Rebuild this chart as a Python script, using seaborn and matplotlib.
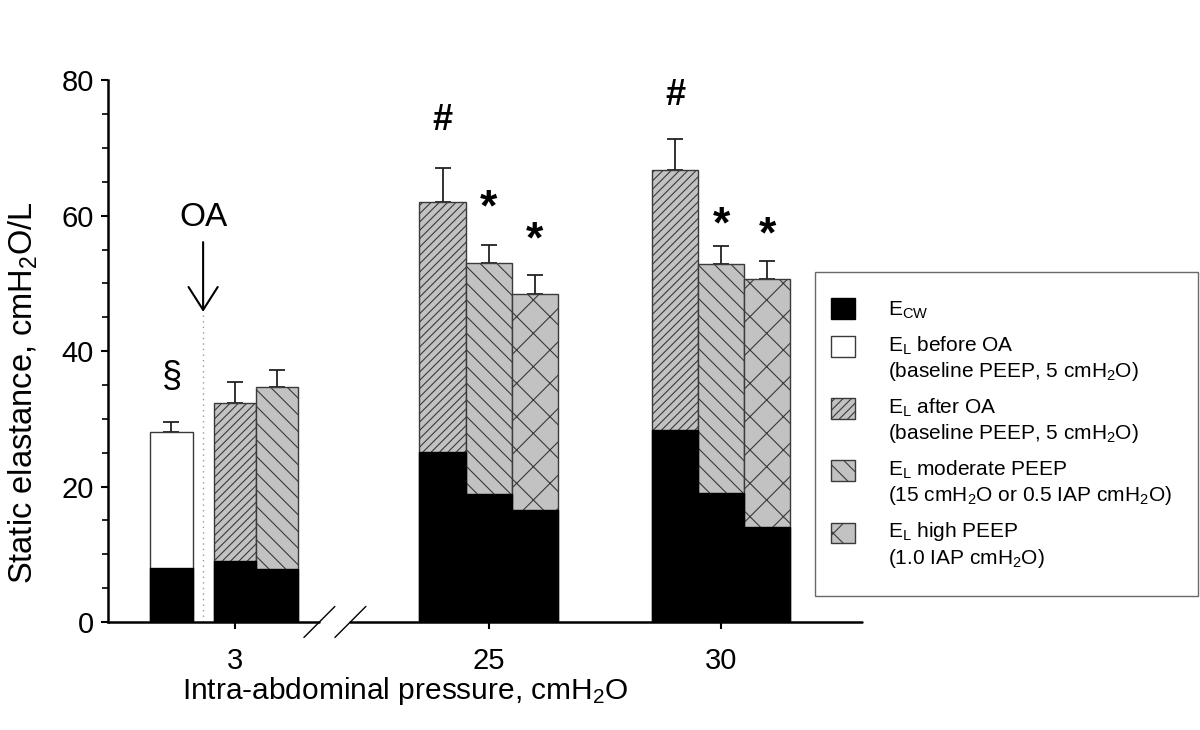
import numpy as np
import pandas as pd
import matplotlib.pyplot as plt
import seaborn as sns
from matplotlib.patches import Patch, Rectangle
from matplotlib.legend_handler import HandlerPatch

# values, static elastance in cmH2O/L
iap = ["3", "3", "3", "25", "25", "25", "30", "30", "30"]
condition = ["before", "after", "moderate", "after", "moderate", "high", "after", "moderate", "high"]
e_cw = [7.9, 9.0, 7.8, 25.1, 18.9, 16.6, 28.4, 19.0, 14.0]       # chest wall elastance (black part)
e_l = [20.1, 23.3, 26.9, 36.9, 34.1, 31.9, 38.4, 33.8, 36.6]      # lung elastance stacked on top
e_l_err = [1.5, 3.1, 2.5, 5.1, 2.7, 2.7, 4.5, 2.8, 2.7]           # upper error bar
iap_ticks = ["3", "25", "30"]

# significance marks: which bar, symbol, height of the symbol centre
mark_bar = [0, 3, 6, 4, 5, 7, 8]
mark_symbol = ["§", "#", "#", "*", "*", "*", "*"]
mark_y = [36.1, 74.1, 77.8, 62.5, 57.8, 60.0, 58.6]

# layout: tick position of every IAP group and offset of each bar in it (bar widths)
group_x = {"3": 2.745, "25": 8.245, "30": 13.28}
bar_offset = [-1.37, 0.0, 0.913, -1.0, 0.0, 1.0, -1.0, 0.0, 1.0]

fill = {"before": "white", "after": "#c2c2c2", "moderate": "#c2c2c2", "high": "#c2c2c2"}
hatch = {"before": "", "after": "////", "moderate": "\\\\", "high": "x"}
edge = "#3a3a3a"

sns.set_theme(style="ticks")
plt.rcParams["font.family"] = ["Liberation Sans", "DejaVu Sans"]
plt.rcParams["mathtext.fontset"] = "custom"
plt.rcParams["mathtext.rm"] = "Liberation Sans"
plt.rcParams["mathtext.it"] = "Liberation Sans:italic"
plt.rcParams["mathtext.bf"] = "Liberation Sans:bold"
plt.rcParams["hatch.linewidth"] = 0.8
for key in ["text.color", "axes.labelcolor", "xtick.color", "ytick.color"]:
    plt.rcParams[key] = "black"

df = pd.DataFrame({"iap": iap, "condition": condition, "e_cw": e_cw, "e_l": e_l, "err": e_l_err})
df["total"] = df["e_cw"] + df["e_l"]
df["x"] = [group_x[g] + o for g, o in zip(df["iap"], bar_offset)]

fig = plt.figure(figsize=(12, 7.3), dpi=100)
ax = fig.add_axes([0.09, 0.148, 0.628, 0.742])

for g in iap_ticks:
    sub = df[df["iap"] == g].sort_values("x")
    n0 = len(ax.patches)
    sns.barplot(data=sub, x="x", y="total", native_scale=True, orient="x", width=1,
                color="#c2c2c2", saturation=1, errorbar=None, edgecolor=edge, linewidth=1, ax=ax)
    for patch, cond in zip(ax.patches[n0:], sub["condition"]):   # fill and hatch per condition
        patch.set_facecolor(fill[cond])
        patch.set_hatch(hatch[cond])
        patch.set_edgecolor(edge)
    sns.barplot(data=sub, x="x", y="e_cw", native_scale=True, orient="x", width=1,
                color="black", saturation=1, errorbar=None, edgecolor="black", linewidth=1, ax=ax)

# upper error bars only
ax.errorbar(df["x"], df["total"], yerr=[np.zeros(len(df)), df["err"]], fmt="none",
            ecolor="#222222", elinewidth=1.3, capsize=5.5, capthick=1.3, zorder=0.5)

for b, s, yv in zip(mark_bar, mark_symbol, mark_y):
    size = {"§": 26, "#": 26, "*": 32}[s]
    dy = -0.23 * size if s == "*" else 0          # asterisk sits high in its text box
    ax.annotate(s, (df["x"][b], yv), xytext=(0, dy), textcoords="offset points",
                ha="center", va="center", fontsize=size,
                fontweight="normal" if s == "§" else "bold")

# occlusion (OA) marker between the first two bars
x_oa = (df["x"][0] + df["x"][1]) / 2
ax.vlines(x_oa, 0, 45.8, colors="#9a9a9a", linestyles=(0, (1, 3)), linewidth=1)
ax.annotate("", xy=(x_oa, 45.8), xytext=(x_oa, 56.1),
            arrowprops=dict(arrowstyle="->,head_length=1.1,head_width=0.7", lw=1.5, color="black",
                            mutation_scale=15, shrinkA=0, shrinkB=0))
ax.text(x_oa, 59.8, "OA", ha="center", va="center", fontsize=24)

ax.set_xlim(0, 16.32)
ax.set_ylim(0, 80)
ax.set_yticks(range(0, 81, 20))
ax.set_yticks(range(0, 81, 5), minor=True)
ax.set_xticks([group_x[g] for g in iap_ticks], iap_ticks)
ax.tick_params(axis="both", which="major", direction="out", labelsize=21, width=1.5, length=5, color="black")
ax.tick_params(axis="x", which="major", pad=13)
ax.tick_params(axis="y", which="major", pad=5)
ax.tick_params(axis="y", which="minor", direction="out", width=1.2, length=4, color="black")
ax.tick_params(axis="x", which="minor", bottom=False)
sns.despine(ax=ax)
ax.spines["bottom"].set_visible(False)
ax.spines["left"].set_linewidth(1.8)
ax.spines["left"].set_color("black")

# broken x axis
xt = ax.get_xaxis_transform()
brk = [4.578, 5.249]
ax.plot([0, brk[0]], [0, 0], color="black", lw=1.8, transform=xt, clip_on=False)
ax.plot([brk[1], 16.32], [0, 0], color="black", lw=1.8, transform=xt, clip_on=False)
for c in brk:
    ax.plot([c - 0.335, c + 0.335], [-2.29, 2.29], color="black", lw=1, clip_on=False)

ax.set_xlabel("Intra-abdominal pressure, cmH$_2$O", fontsize=21.5)
ax.set_ylabel("Static elastance, cmH$_2$O/L", fontsize=23.5)
ax.xaxis.set_label_coords(0.395, -0.098)
ax.yaxis.set_label_coords(-0.09, 0.424)


def swatch(shift_up):
    # legend swatch moved a bit left, and up to the first line of a two-line label
    def make(legend, orig_handle, xdescent, ydescent, width, height, fontsize):
        return Rectangle((-xdescent - 0.48 * fontsize, -ydescent + shift_up * fontsize), width, height)
    return HandlerPatch(patch_func=make)


handles = [Patch(facecolor="black", edgecolor="black"),
           Patch(facecolor="white", edgecolor=edge),
           Patch(facecolor="#c2c2c2", edgecolor=edge, hatch=hatch["after"]),
           Patch(facecolor="#c2c2c2", edgecolor=edge, hatch=hatch["moderate"]),
           Patch(facecolor="#c2c2c2", edgecolor=edge, hatch=hatch["high"])]
labels = ["E$_\\mathrm{CW}$",
          "E$_\\mathrm{L}$ before OA\n(baseline PEEP, 5 cmH$_2$O)",
          "E$_\\mathrm{L}$ after OA\n(baseline PEEP, 5 cmH$_2$O)",
          "E$_\\mathrm{L}$ moderate PEEP\n(15 cmH$_2$O or 0.5 IAP cmH$_2$O)",
          "E$_\\mathrm{L}$ high PEEP\n(1.0 IAP cmH$_2$O)"]
hmap = {h: swatch(0.0 if i == 0 else 0.6) for i, h in enumerate(handles)}
leg = fig.legend(handles, labels, loc="upper left", bbox_to_anchor=(0.679, 0.627), borderaxespad=0,
                 handlelength=1.15, handleheight=1.15, handletextpad=1.1, labelspacing=0.64,
                 borderpad=1.25, fontsize=15, frameon=True, fancybox=False, handler_map=hmap)
leg.get_frame().set_edgecolor("#444444")
leg.get_frame().set_linewidth(1)

fig.savefig("out.png", dpi=100)
